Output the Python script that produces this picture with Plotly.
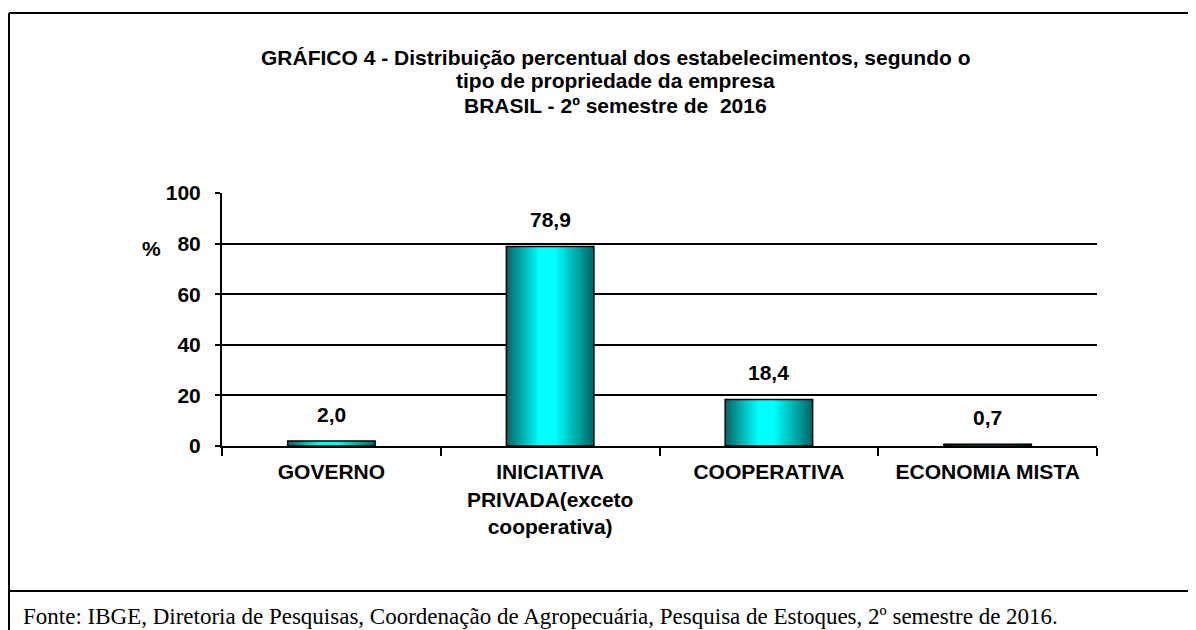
import plotly.graph_objects as go

categories = ["GOVERNO", "INICIATIVA<br>PRIVADA(exceto<br>cooperativa)", "COOPERATIVA", "ECONOMIA MISTA"]
values = [2.0, 78.9, 18.4, 0.7]
value_labels = ["2,0", "78,9", "18,4", "0,7"]
y_ticks = [0, 20, 40, 60, 80, 100]
title_lines = [
    "GRÁFICO 4 - Distribuição percentual dos estabelecimentos, segundo o",
    "tipo de propriedade da empresa",
    "BRASIL - 2º semestre de  2016",
]
footer = "Fonte: IBGE, Diretoria de Pesquisas, Coordenação de Agropecuária, Pesquisa de Estoques, 2º semestre de 2016."

OFF = 8  # page body margin
W, H = 1196 - OFF, 630 - OFF
L, R, T, B = 222 - OFF, 99, 193 - OFF, 184
PW, PH = W - L - R, H - T - B


def px(xw):
    return (xw - OFF - L) / PW


def py(yw):
    return (H - B - (yw - OFF)) / PH


positions = list(range(1, len(categories) + 1))
half = 0.2
grad = [[0.0, "#006464"], [0.38, "#00FFFF"], [0.55, "#00FFFF"], [1.0, "#006464"]]

fig = go.Figure()
for xc, v in zip(positions, values):
    fig.add_trace(go.Scatter(
        x=[xc - half, xc - half, xc + half, xc + half, xc - half],
        y=[0, v, v, 0, 0],
        mode="lines",
        fill="toself",
        fillgradient=dict(type="horizontal", colorscale=grad),
        line=dict(color="black", width=1.5),
        hoverinfo="skip",
        showlegend=False,
    ))

FAM = "Liberation Sans, Arial"
bold = dict(family=FAM, size=21, color="black")

for xc, v, lab in zip(positions, values, value_labels):
    fig.add_annotation(x=xc, y=v, text=f"<b>{lab}</b>", showarrow=False,
                       yanchor="bottom", yshift=13, font=dict(family=FAM, size=21, color="black"))

fig.update_xaxes(
    range=[0.5, len(categories) + 0.5],
    tickmode="array", tickvals=positions,
    ticktext=[f"<b>{c}</b>" for c in categories],
    ticks="", showgrid=False, zeroline=False,
    showline=True, linecolor="black", linewidth=2,
    tickfont=bold, ticklabelstandoff=6,
    minor=dict(tickmode="array", tickvals=[p + 0.5 for p in [0] + positions],
               ticks="outside", ticklen=8, tickwidth=2, tickcolor="black",
               showgrid=False),
)
fig.update_yaxes(
    range=[0, 100], tickmode="array", tickvals=y_ticks,
    ticktext=[f"<b>{t}</b>" for t in y_ticks],
    ticks="outside", ticklen=5, tickwidth=2, tickcolor="black",
    showgrid=True, gridcolor="black", gridwidth=2,
    zeroline=False, showline=True, linecolor="black", linewidth=2,
    tickfont=bold, ticklabelstandoff=10,
)

# title lines
for line, yc in zip(title_lines, [57, 81, 105]):
    fig.add_annotation(
        xref="paper", yref="paper", x=px(615), y=py(yc), xanchor="center", yanchor="middle",
        text=f"<b>{line}</b>", showarrow=False,
        font=dict(family=FAM, size=21, color="black"),
    )
# % label
fig.add_annotation(xref="paper", yref="paper", x=px(151), y=py(248), text="<b>%</b>",
                   showarrow=False, xanchor="center", yanchor="middle", font=bold)
# footer
fig.add_annotation(
    xref="paper", yref="paper", x=px(21), y=py(616), xanchor="left", yanchor="middle",
    text=footer, showarrow=False,
    font=dict(family="Liberation Serif, Times New Roman", size=23, color="black"),
)

# frame lines
frame = dict(color="black", width=2)
fig.add_shape(type="line", xref="paper", yref="paper", x0=px(9), x1=px(1200), y0=py(13), y1=py(13), line=frame)
fig.add_shape(type="line", xref="paper", yref="paper", x0=px(9), x1=px(9), y0=py(13), y1=py(640), line=frame)
fig.add_shape(type="line", xref="paper", yref="paper", x0=px(9), x1=px(1200), y0=py(591), y1=py(591), line=frame)

fig.update_layout(
    width=W, height=H,
    margin=dict(l=L, r=R, t=T, b=B, autoexpand=False),
    paper_bgcolor="white", plot_bgcolor="white",
    showlegend=False,
)

fig.write_html("out.html")
